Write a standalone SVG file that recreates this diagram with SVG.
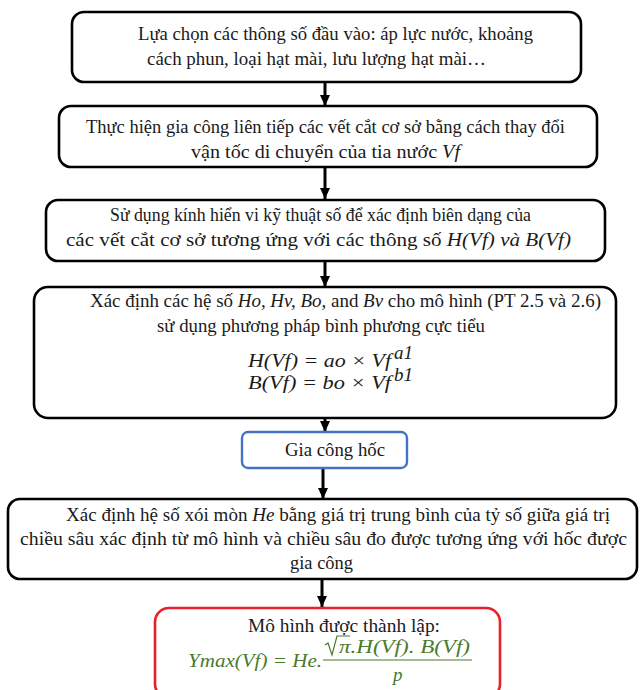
<svg xmlns="http://www.w3.org/2000/svg" width="643" height="690" viewBox="0 0 643 690">
<style>
.box{fill:#fff;stroke:#000;stroke-width:2.6}
.t{font-family:"Liberation Serif","Times New Roman",serif;font-size:19.5px;fill:#1a1a1a}
.m{font-family:"Liberation Serif","Times New Roman",serif;font-size:19px;font-style:italic;fill:#1a1a1a}
.g{font-family:"Liberation Serif","Times New Roman",serif;font-size:19px;font-style:italic;fill:#4a7a2c}
.i{font-style:italic}
.c{stroke:#000;stroke-width:3;fill:none}
</style>
<defs>
<marker id="ah" markerUnits="userSpaceOnUse" markerWidth="12" markerHeight="10" refX="11" refY="5" orient="auto">
<path d="M0,0 L11,5 L0,10 Z" fill="#000"/>
</marker>
</defs>
<rect width="643" height="690" fill="#fff"/>
<g id="connectors">
<line class="c" x1="325" y1="83" x2="325" y2="106" marker-end="url(#ah)"/>
<line class="c" x1="325" y1="167" x2="325" y2="199" marker-end="url(#ah)"/>
<line class="c" x1="325" y1="261" x2="325" y2="287" marker-end="url(#ah)"/>
<line class="c" x1="325" y1="418" x2="325" y2="432" marker-end="url(#ah)"/>
<line class="c" x1="323" y1="468" x2="323" y2="499" marker-end="url(#ah)"/>
<line class="c" x1="322" y1="579" x2="322" y2="607" marker-end="url(#ah)"/>
</g>
<g id="n1">
<rect class="box" x="72" y="12" width="509" height="70" rx="12"/>
<text class="t" x="138" y="40" textLength="395" lengthAdjust="spacingAndGlyphs">Lựa chọn các thông số đầu vào: áp lực nước, khoảng</text>
<text class="t" x="147" y="65" textLength="339" lengthAdjust="spacingAndGlyphs">cách phun, loại hạt mài, lưu lượng hạt mài…</text>
</g>
<g id="n2">
<rect class="box" x="59" y="106" width="538" height="61" rx="12"/>
<text class="t" x="86" y="133" textLength="479" lengthAdjust="spacingAndGlyphs">Thực hiện gia công liên tiếp các vết cắt cơ sở bằng cách thay đổi</text>
<text class="t" x="191" y="158" textLength="269" lengthAdjust="spacingAndGlyphs">vận tốc di chuyển của tia nước <tspan class="i">Vf</tspan></text>
</g>
<g id="n3">
<rect class="box" x="46" y="200" width="559" height="61" rx="12"/>
<text class="t" x="110" y="221" textLength="421" lengthAdjust="spacingAndGlyphs">Sử dụng kính hiển vi kỹ thuật số để xác định biên dạng của</text>
<text class="t" x="66" y="246" textLength="505" lengthAdjust="spacingAndGlyphs">các vết cắt cơ sở tương ứng với các thông số <tspan class="i">H(Vf) và B(Vf)</tspan></text>
</g>
<g id="n4">
<rect class="box" x="34" y="287" width="582" height="131" rx="14"/>
<text class="t" x="90" y="307" textLength="511" lengthAdjust="spacingAndGlyphs">Xác định các hệ số <tspan class="i">Ho, Hv, Bo,</tspan> and <tspan class="i">Bv</tspan> cho mô hình (PT 2.5 và 2.6)</text>
<text class="t" x="157" y="332" textLength="328" lengthAdjust="spacingAndGlyphs">sử dụng phương pháp bình phương cực tiểu</text>
<text class="m" x="248" y="367" textLength="143" lengthAdjust="spacingAndGlyphs">H(Vf) = ao × Vf</text>
<text class="m" x="394" y="359" font-size="12.5">a1</text>
<text class="m" x="248" y="389" textLength="143" lengthAdjust="spacingAndGlyphs">B(Vf) = bo × Vf</text>
<text class="m" x="394" y="381" font-size="12.5">b1</text>
</g>
<g id="n5">
<rect x="242" y="432" width="165" height="36" rx="6" fill="#fff" stroke="#4472c4" stroke-width="2.4"/>
<text class="t" x="285" y="456" textLength="100" lengthAdjust="spacingAndGlyphs">Gia công hốc</text>
</g>
<g id="n6">
<rect class="box" x="8" y="499" width="629" height="80" rx="12"/>
<text class="t" x="66" y="521" textLength="544" lengthAdjust="spacingAndGlyphs">Xác định hệ số xói mòn <tspan class="i">He</tspan> bằng giá trị trung bình của tỷ số giữa giá trị</text>
<text class="t" x="20" y="545" textLength="607" lengthAdjust="spacingAndGlyphs">chiều sâu xác định từ mô hình và chiều sâu đo được tương ứng với hốc được</text>
<text class="t" x="290" y="569" textLength="63" lengthAdjust="spacingAndGlyphs">gia công</text>
</g>
<g id="n7">
<rect x="155" y="608" width="345" height="90" rx="14" fill="#fff" stroke="#e8202a" stroke-width="2.6"/>
<text class="t" x="248" y="632" textLength="192" lengthAdjust="spacingAndGlyphs">Mô hình được thành lập:</text>
<text class="g" x="188" y="667" textLength="134" lengthAdjust="spacingAndGlyphs">Ymax(Vf) =  He.</text>
<path d="M325,645 L328,643 L332,655 L337,636 L350,636" fill="none" stroke="#4a7a2c" stroke-width="1.2"/>
<text class="g" x="339" y="653" textLength="131" lengthAdjust="spacingAndGlyphs">π.H(Vf). B(Vf)</text>
<line x1="323" y1="660" x2="472" y2="660" stroke="#4a7a2c" stroke-width="1.2"/>
<text class="g" x="393" y="681">p</text>
</g>
</svg>
